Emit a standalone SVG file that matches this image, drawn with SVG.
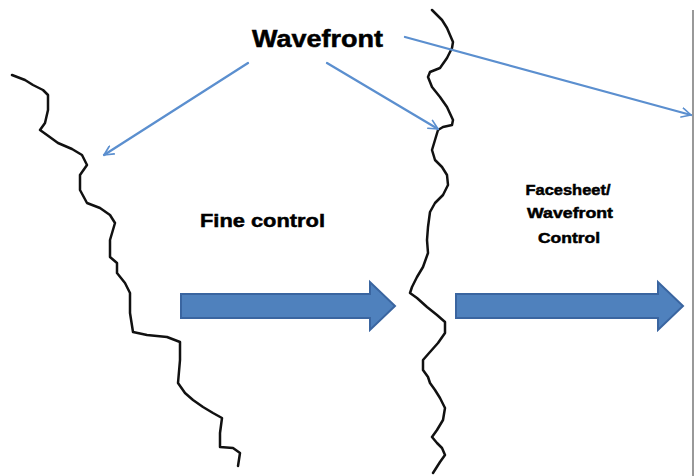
<svg xmlns="http://www.w3.org/2000/svg" width="694" height="476" viewBox="0 0 694 476">
<defs>
<style>
.wave{fill:none;stroke:#111;stroke-width:2.5;stroke-linejoin:round;stroke-linecap:round}
.ptr{fill:none;stroke:#5B8FCF;stroke-width:2.3;stroke-linecap:round;stroke-linejoin:round}
.block{fill:#4F81BD;stroke:#3A65A0;stroke-width:2}
.t{font-family:"Liberation Sans",Arial,sans-serif;font-weight:bold;fill:#000;stroke:#000;stroke-width:0.5}
</style>
<marker id="open" viewBox="0 0 12 12" refX="11" refY="6" markerWidth="11" markerHeight="11" orient="auto" markerUnits="userSpaceOnUse">
<path d="M1,1 L11,6 L1,11" fill="none" stroke="#5B8FCF" stroke-width="1.8" stroke-linecap="round" stroke-linejoin="round"/>
</marker>
</defs>
<rect width="694" height="476" fill="#fff"/>
<line x1="693" y1="10" x2="693" y2="476" stroke="#555" stroke-width="1.2"/>
<g id="wavefront-left">
<polyline class="wave" points="12,75 25,80 33,85 43,90 48,95 48,110 45,123 40,130 47,135 58,143 72,149 82,155 87,165 80,175 80,190 87,203 100,208 110,215 115,223 110,240 110,257 117,263 117,273 125,283 130,293 130,313 133,332 147,335 167,337 180,342 180,360 178,383 185,393 193,400 203,407 213,413 222,418 220,433 220,447 233,448 240,453 238,466"/>
</g>
<g id="wavefront-middle">
<polyline class="wave" points="432,10 442,20 447,28 450,35 453,42 452,48 447,58 440,68 430,72 428,77 432,87 440,97 447,107 453,120 452,125 443,127 438,130 435,140 432,150 435,160 442,167 447,175 448,185 443,195 435,203 430,212 428,227 427,240 428,253 423,267 417,277 412,287 410,293 417,298 427,307 437,315 445,322 445,333 438,343 430,352 423,360 423,370 428,377 430,383 435,390 440,398 445,408 443,420 437,430 432,437 437,443 442,448 445,455 440,462 433,473"/>
</g>
<g id="label-wavefront">
<text class="t" x="252" y="47" font-size="23" textLength="131" lengthAdjust="spacingAndGlyphs">Wavefront</text>
</g>
<g id="label-fine">
<text class="t" x="200" y="227" font-size="19" textLength="125" lengthAdjust="spacingAndGlyphs">Fine control</text>
</g>
<g id="label-facesheet">
<text class="t" x="568" y="195" font-size="15" text-anchor="middle" textLength="85" lengthAdjust="spacingAndGlyphs">Facesheet/</text>
<text class="t" x="570" y="218" font-size="15" text-anchor="middle" textLength="86" lengthAdjust="spacingAndGlyphs">Wavefront</text>
<text class="t" x="569" y="243" font-size="15" text-anchor="middle" textLength="62" lengthAdjust="spacingAndGlyphs">Control</text>
</g>
<g id="block-arrow-1">
<path class="block" d="M181,294 L370,294 L370,282 L395,306 L370,330 L370,318 L181,318 Z"/>
</g>
<g id="block-arrow-2">
<path class="block" d="M456,294 L658,294 L658,282 L683,306 L658,330 L658,318 L456,318 Z"/>
</g>
<g id="connectors">
<line class="ptr" x1="248" y1="63" x2="104" y2="155" marker-end="url(#open)"/>
<line class="ptr" x1="327" y1="63" x2="438" y2="129" marker-end="url(#open)"/>
<line class="ptr" x1="405" y1="37" x2="691" y2="115" marker-end="url(#open)"/>
</g>
</svg>
